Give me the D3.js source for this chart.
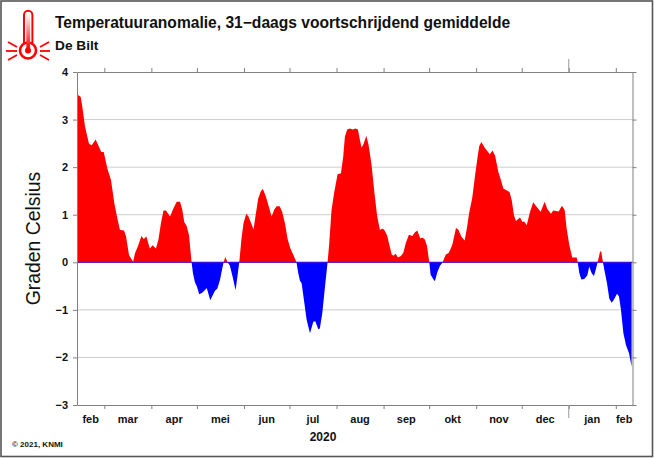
<!DOCTYPE html>
<html><head><meta charset="utf-8">
<script src="https://cdn.jsdelivr.net/npm/d3@7"></script>
<style>html,body{margin:0;padding:0;background:#fff}svg{display:block}text{font-family:"Liberation Sans",Arial,sans-serif;fill:#111}</style>
</head><body><svg id="c" width="654" height="458"></svg>
<script>
const startDate = "2020-02-12";
const endDate = "2021-02-12";
const dayOffsets = [0,0.4,2.4,3.5,5.3,7.9,9.7,12.3,14,16,17.6,20,22.4,24.6,26.6,28.3,31,32.3,34.3,37,38.2,40.4,42.4,44,45.7,48,49.8,52,53.6,55.3,57,58.6,61.3,63.5,65.7,67.9,69.4,70.7,72.2,73.8,75.5,76.4,77.7,79,80.5,82.5,84.3,85.5,87.8,90.9,92.5,94.2,95.7,96.6,97.7,99.2,100.7,102.5,104.5,105.8,106.9,108.4,109.7,111.5,113,115,116.3,117.7,119.4,121.2,122.5,124.5,126.4,128.2,130,131.5,133.5,135.2,137,138.7,140.5,142.5,144.6,145.8,146.9,148,149.5,151.3,153.5,155.7,157,159,160,161.6,163.4,165.1,166.2,167.7,169.5,171.7,173.9,175.4,176.5,178,179.8,181.6,183.6,185.1,186.2,187.5,189,190.6,192.1,194.1,195.9,197.8,199.6,201.4,202.7,204.4,205.7,207.3,208.4,209.9,211.5,213.4,215,216.7,218.7,220.9,222.7,224.2,226.2,227.5,229.2,230.6,232.1,233,234.7,235.8,237.4,239.1,240.9,242.9,245,247.3,249.7,251.2,253.4,255.4,257.1,258.4,260.4,262.2,263.7,265,266.4,268.8,272,273.8,275.5,277.6,279.3,280.9,285,286.4,287.9,289.2,291.9,293.4,294.8,296.3,298.5,300.6,302.8,305.5,308.1,309.9,312.3,313.8,317.3,319.5,321.3,322.6,324.4,326.3,329.2,329.9,331,332.3,334.2,336.2,337.5,339.1,340.6,342,343,344.6,345.4,346.5,347.9,349.2,350.7,352.3,353.8,355.8,357.1,358.4,360,361.7,363.7,365.4];
const anomalies = [3.52,3.52,3.48,3.27,2.85,2.49,2.46,2.58,2.46,2.32,2.32,1.97,1.73,1.24,0.92,0.68,0.67,0.54,0.15,0.01,0.19,0.36,0.55,0.49,0.54,0.29,0.36,0.29,0.47,0.82,1.09,1.09,0.96,1.13,1.27,1.27,1.10,0.84,0.77,0.57,0,-0.23,-0.42,-0.51,-0.67,-0.64,-0.58,-0.54,-0.80,-0.60,-0.55,-0.37,-0.13,0,0.11,0,-0.07,-0.30,-0.59,-0.27,0,0.50,0.82,1.02,0.96,0.80,0.69,0.99,1.34,1.50,1.54,1.38,1.17,0.96,1.11,1.18,1.18,1.06,0.82,0.50,0.30,0.16,0,-0.23,-0.39,-0.44,-0.79,-1.21,-1.49,-1.25,-1.24,-1.41,-1.39,-1.07,-0.51,0,0.40,1.10,1.48,1.85,1.87,2.22,2.64,2.79,2.81,2.79,2.81,2.79,2.60,2.41,2.50,2.66,2.47,2.04,1.48,0.96,0.68,0.71,0.67,0.56,0.38,0.17,0.14,0.18,0.10,0.13,0.20,0.41,0.58,0.55,0.63,0.67,0.50,0.52,0.48,0.34,0,-0.26,-0.35,-0.40,-0.21,-0.08,0,0.16,0.20,0.37,0.72,0.69,0.53,0.46,0.76,1.04,1.35,1.81,2.16,2.44,2.53,2.40,2.27,2.35,2.24,1.90,1.73,1.55,1.48,1.31,0.99,0.87,0.94,0.85,0.85,0.78,1.06,1.26,1.17,1.06,1.27,1.12,1.02,1.09,1.07,1.19,1.10,0.71,0.36,0.10,0.10,0,-0.23,-0.36,-0.35,-0.28,-0.09,-0.23,-0.29,-0.13,0,0.22,0.23,0,-0.23,-0.44,-0.76,-0.85,-0.78,-0.66,-0.72,-1.00,-1.49,-1.74,-1.91,-2.19];
const yTicks = [-3,-2,-1,0,1,2,3,4];
const monthStarts = ["2020-03-01","2020-04-01","2020-05-01","2020-06-01","2020-07-01","2020-08-01","2020-09-01","2020-10-01","2020-11-01","2020-12-01","2021-01-01","2021-02-01"];
const monthLabels = ["feb","mar","apr","mei","jun","jul","aug","sep","okt","nov","dec","jan","feb"];
const yearStart = "2021-01-01";
const title = "Temperatuuranomalie, 31\u2212daags voortschrijdend gemiddelde";
const subtitle = "De Bilt";
const yTitle = "Graden Celsius";
const yearLabel = "2020";
const credit = "\u00a9 2021, KNMI";

const svg = d3.select("#c");
const L = 77, R = 632.5, T = 72, B = 405;
const parse = s => new Date(s + "T00:00:00Z");
const t0 = parse(startDate), t1 = parse(endDate);
const x = d3.scaleUtc().domain([t0, t1]).range([L, R]);
const y = d3.scaleLinear().domain([-3, 4]).range([B, T]);
const dayToDate = d => new Date(+t0 + d * 864e5);
const series = dayOffsets.map((d, i) => ({ t: dayToDate(d), v: anomalies[i] }));
const months = monthStarts.map(parse);

svg.append("rect").attr("x",1).attr("y",1).attr("width",651.5).attr("height",455.5).attr("fill","#fff").attr("stroke","#555").attr("stroke-width",1.6);

// gridlines
svg.append("g").selectAll("line").data(yTicks.filter(v => v > -3 && v < 4)).join("line")
  .attr("x1",L).attr("x2",R).attr("y1",d=>y(d)).attr("y2",d=>y(d)).attr("stroke","#cccccc").attr("stroke-width",1);

// areas
const area = f => d3.area().x(d=>x(d.t)).y0(y(0)).y1(d=>y(f(d.v)));
svg.append("path").datum(series).attr("fill","#ff0000").attr("d",area(v=>Math.max(0,v)));
svg.append("path").datum(series).attr("fill","#0000ff").attr("d",area(v=>Math.min(0,v)));
svg.append("line").attr("x1",L).attr("x2",R).attr("y1",y(0)).attr("y2",y(0)).attr("stroke","#3a00e0").attr("stroke-width",1);

// axes
function style(g){ g.select(".domain").attr("stroke","#808080"); g.selectAll(".tick line").attr("stroke","#808080"); g.selectAll("text").remove(); }
const mTop = d3.axisTop(x).tickValues(months).tickSize(4).tickSizeOuter(0);
const mBot = d3.axisBottom(x).tickValues(months).tickSize(4).tickSizeOuter(0);
svg.append("g").attr("transform",`translate(0,${T})`).call(mTop).call(style);
svg.append("g").attr("transform",`translate(0,${B})`).call(mBot).call(style);
const yb = x(parse(yearStart));
svg.append("line").attr("x1",yb).attr("x2",yb).attr("y1",T).attr("y2",59).attr("stroke","#999").attr("stroke-width",1);
svg.append("line").attr("x1",yb).attr("x2",yb).attr("y1",B).attr("y2",418).attr("stroke","#999").attr("stroke-width",1);

const yL = d3.axisLeft(y).tickValues(yTicks).tickSize(4).tickSizeOuter(0);
const yR = d3.axisRight(y).tickValues(yTicks).tickSize(4).tickSizeOuter(0);
svg.append("g").attr("transform",`translate(${L},0)`).call(yL).call(style);
svg.append("g").attr("transform",`translate(${R},0)`).call(yR).call(style);

// tick labels
svg.append("g").selectAll("text").data(yTicks).join("text")
  .attr("x",68).attr("y",d=>y(d)+4).attr("text-anchor","end")
  .style("font-size","11px").style("font-weight","bold")
  .text(d=>d<0?"\u2212"+(-d):d);
const edges = [t0, ...months, t1];
svg.append("g").selectAll("text").data(monthLabels).join("text")
  .attr("x",(d,i)=>(x(edges[i])+x(edges[i+1]))/2).attr("y",423).attr("text-anchor","middle")
  .style("font-size","11px").style("font-weight","bold").text(d=>d);
svg.append("text").attr("x",323).attr("y",441).attr("text-anchor","middle").style("font-size","12px").style("font-weight","bold").text(yearLabel);
svg.append("text").attr("x",12).attr("y",447).style("font-size","8px").style("font-weight","bold").text(credit);
svg.append("text").attr("x",55).attr("y",28).style("font-size","15.6px").style("font-weight","bold").text(title);
svg.append("text").attr("x",55).attr("y",50).style("font-size","13.7px").style("font-weight","bold").text(subtitle);
svg.append("text").attr("transform","translate(40,238.5) rotate(-90)").attr("text-anchor","middle").style("font-size","19.4px").text(yTitle);

// thermometer icon
const defs = svg.append("defs");
const g = defs.append("linearGradient").attr("id","tg").attr("x1",0).attr("x2",0).attr("y1",0).attr("y2",1);
g.append("stop").attr("offset","0").attr("stop-color","#fff");
g.append("stop").attr("offset","1").attr("stop-color","#f00");
const ic = svg.append("g").attr("fill","none").attr("stroke","#f00");
ic.append("path").attr("stroke-width",2).attr("d","M24 43 V15 A4.2 4.2 0 0 1 32.4 15 V43");
ic.append("circle").attr("cx",28).attr("cy",50.5).attr("r",8).attr("stroke-width",2.6);
ic.append("circle").attr("cx",28).attr("cy",50.5).attr("r",3).attr("fill","#f00").attr("stroke","none");
ic.append("rect").attr("x",26.3).attr("y",14).attr("width",3.8).attr("height",35).attr("fill","url(#tg)").attr("stroke","none");
[[8,42,17,47],[6,51,17,51],[8,60,17,55],[40,47,49,42],[40,51,50,51],[40,55,49,60]].forEach(r=>
  ic.append("line").attr("x1",r[0]).attr("y1",r[1]).attr("x2",r[2]).attr("y2",r[3]).attr("stroke-width",1.8));
</script></body></html>
